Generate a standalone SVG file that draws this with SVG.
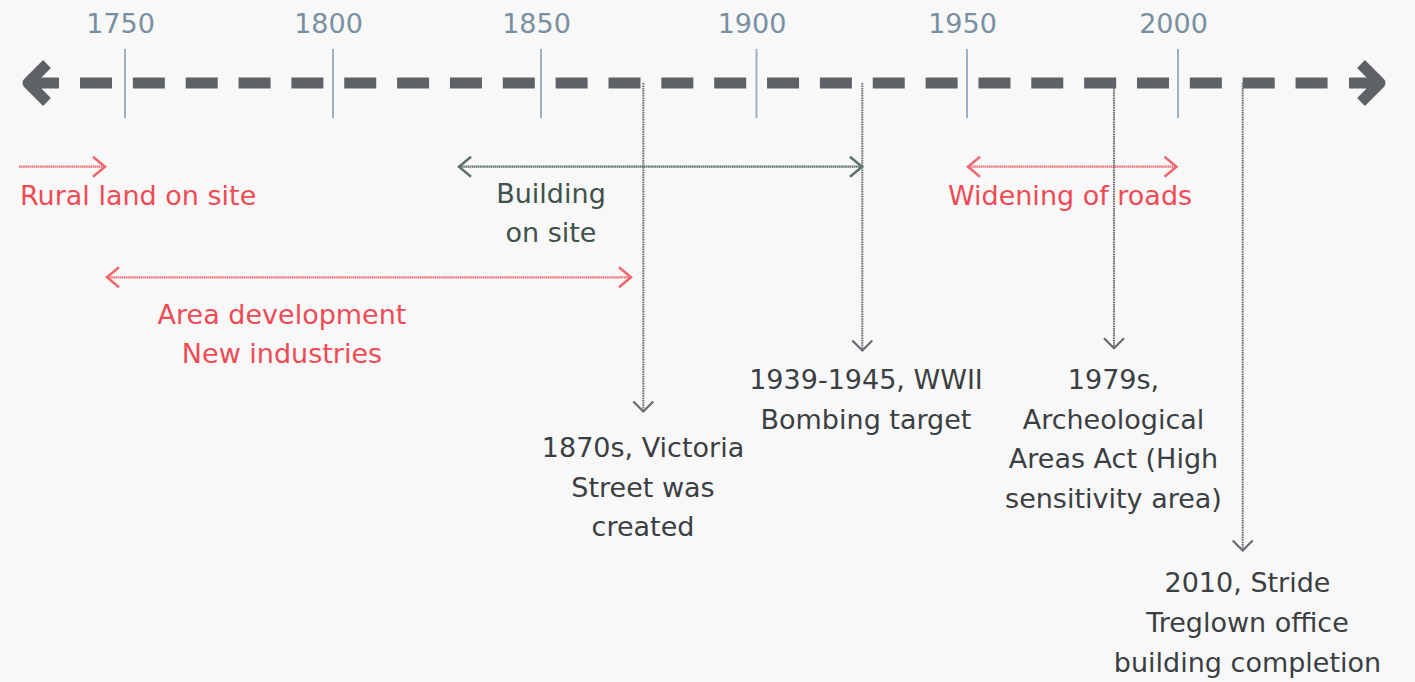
<svg xmlns="http://www.w3.org/2000/svg" width="1415" height="682" viewBox="0 0 1415 682">
  <style>
    text { font-family: "DejaVu Sans", "Liberation Sans", sans-serif; font-size: 27px; }
    .year { fill: #7890a2; text-anchor: middle; }
    .tick { stroke: #9cb0bf; stroke-width: 2; }
    .axis { fill: none; stroke: #5e6266; stroke-width: 11; }
    .red { fill: #ef4b54; }
    .green { fill: #3e5249; }
    .dark { fill: #3b3f42; }
    .mid { text-anchor: middle; }
    .span-red { fill: none; stroke: #f0727a; stroke-width: 2.3; stroke-dasharray: 1.6 0.5; }
    .span-green { fill: none; stroke: #61726b; stroke-width: 2.3; stroke-dasharray: 1.6 0.5; }
    .drop { fill: none; stroke: #6b6f73; stroke-width: 2; stroke-dasharray: 1.6 0.8; }
  </style>
  <defs>
    <marker id="head-red" viewBox="-15 -12 18 24" markerWidth="18" markerHeight="24" refX="0" refY="0" markerUnits="userSpaceOnUse" orient="auto-start-reverse">
      <path d="M-12,-10 L0,0 L-12,10" fill="none" stroke="#f0676d" stroke-width="2.5"/>
    </marker>
    <marker id="head-green" viewBox="-15 -12 18 24" markerWidth="18" markerHeight="24" refX="0" refY="0" markerUnits="userSpaceOnUse" orient="auto-start-reverse">
      <path d="M-12,-10 L0,0 L-12,10" fill="none" stroke="#5f706a" stroke-width="2.5"/>
    </marker>
    <marker id="head-gray" viewBox="-13 -12 16 24" markerWidth="16" markerHeight="24" refX="0" refY="0" markerUnits="userSpaceOnUse" orient="auto">
      <path d="M-10,-10 L0,0 L-10,10" fill="none" stroke="#676b6f" stroke-width="2.2"/>
    </marker>
  </defs>

  <rect width="1415" height="682" fill="#f8f8f8"/>

  <!-- time axis -->
  <g id="axis">
    <path class="axis" d="M80,83 H1328" stroke-dasharray="32 20.85"/>
    <path class="axis" d="M59,83 H28 M47,64 L28,83 L47,102" stroke-linejoin="round"/>
    <path class="axis" d="M1349,83 H1380 M1361,64 L1380,83 L1361,102" stroke-linejoin="round"/>
    <line class="tick" x1="125" y1="49" x2="125" y2="118"/>
    <line class="tick" x1="333" y1="49" x2="333" y2="118"/>
    <line class="tick" x1="541" y1="49" x2="541" y2="118"/>
    <line class="tick" x1="756.5" y1="49" x2="756.5" y2="118"/>
    <line class="tick" x1="967" y1="49" x2="967" y2="118"/>
    <line class="tick" x1="1178" y1="49" x2="1178" y2="118"/>
    <text class="year" x="120.5" y="33">1750</text>
    <text class="year" x="328.5" y="33">1800</text>
    <text class="year" x="536.5" y="33">1850</text>
    <text class="year" x="752" y="33">1900</text>
    <text class="year" x="962.5" y="33">1950</text>
    <text class="year" x="1173.5" y="33">2000</text>
  </g>

  <!-- connectors: period spans and event drops -->
  <g id="connectors">
    <path class="span-red" d="M19,166.7 H105" marker-end="url(#head-red)"/>
    <path class="span-green" d="M459,166.7 H862" marker-start="url(#head-green)" marker-end="url(#head-green)"/>
    <path class="span-red" d="M107,277.3 H631" marker-start="url(#head-red)" marker-end="url(#head-red)"/>
    <path class="span-red" d="M968,166.7 H1176.5" marker-start="url(#head-red)" marker-end="url(#head-red)"/>
    <path class="drop" d="M643.3,83 V411.5" marker-end="url(#head-gray)"/>
    <path class="drop" d="M862.3,83 V350.5" marker-end="url(#head-gray)"/>
    <path class="drop" d="M1114,83 V348.3" marker-end="url(#head-gray)"/>
    <path class="drop" d="M1242.7,83 V550.5" marker-end="url(#head-gray)"/>
  </g>

  <g id="rural-land">
    <text class="red" x="20" y="205">Rural land on site</text>
  </g>
  <g id="building-on-site">
    <text class="green mid" x="551" y="203">Building</text>
    <text class="green mid" x="551" y="242">on site</text>
  </g>
  <g id="area-development">
    <text class="red mid" x="282" y="323.5">Area development</text>
    <text class="red mid" x="282" y="363">New industries</text>
  </g>
  <g id="widening-of-roads">
    <text class="red mid" x="1070" y="204.5">Widening of roads</text>
  </g>
  <g id="victoria-street">
    <text class="dark mid" x="643" y="456.7">1870s, Victoria</text>
    <text class="dark mid" x="643" y="496.5">Street was</text>
    <text class="dark mid" x="643" y="536">created</text>
  </g>
  <g id="wwii">
    <text class="dark mid" x="866" y="389.3">1939-1945, WWII</text>
    <text class="dark mid" x="866" y="428.5">Bombing target</text>
  </g>
  <g id="archaeological-areas-act">
    <text class="dark mid" x="1113.5" y="389.3">1979s,</text>
    <text class="dark mid" x="1113.5" y="428.5">Archeological</text>
    <text class="dark mid" x="1113.5" y="468.3">Areas Act (High</text>
    <text class="dark mid" x="1113.5" y="508.3">sensitivity area)</text>
  </g>
  <g id="stride-treglown">
    <text class="dark mid" x="1247.5" y="591.7">2010, Stride</text>
    <text class="dark mid" x="1247.5" y="631.7">Treglown office</text>
    <text class="dark mid" x="1247.5" y="671.7">building completion</text>
  </g>
</svg>
